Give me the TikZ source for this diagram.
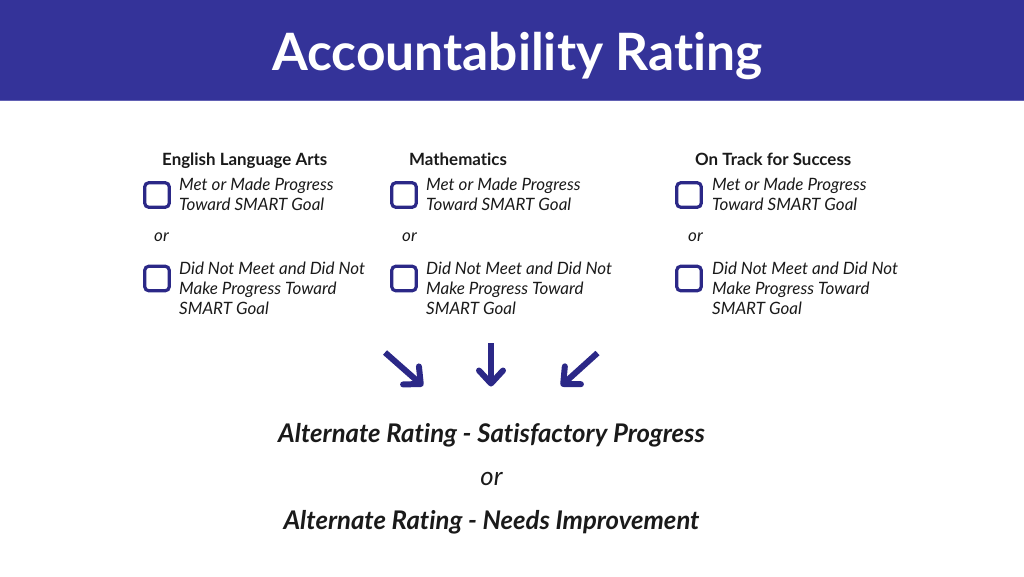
\documentclass[tikz,border=0pt]{standalone}
\usepackage{fontspec}
\setmainfont{Lato}[Ligatures=NoCommon]
\usetikzlibrary{arrows.meta}
\definecolor{bannerblue}{RGB}{52,51,153}
\definecolor{bannerline}{RGB}{98,97,180}
\definecolor{boxblue}{RGB}{43,40,135}
\definecolor{inktext}{RGB}{26,26,26}
\tikzset{
	heading/.style = {
		anchor=base west,
		inner sep=0pt,
		text=inktext,
		font=\bfseries\fontsize{16.9}{20}\selectfont
	},
	choice/.style = {
		anchor=base west,
		align=left,
		inner sep=0pt,
		text=inktext,
		font=\itshape\fontsize{17}{20}\selectfont
	},
	tickbox/.style = {
		draw=boxblue,
		line width=3.2pt,
		rounded corners=4pt,
		minimum size=24.5pt,
		inner sep=0pt
	},
	outcome/.style = {
		anchor=base,
		inner sep=0pt,
		text=inktext,
		font=\bfseries\itshape\fontsize{25.7}{30}\selectfont
	},
	pointer/.style = {
		draw=boxblue,
		line width=6pt,
		-{Straight Barb[round,length=13pt,width=24pt]}
	}
}

\begin{document}
\begin{tikzpicture}[x=1pt,y=-1pt]
	\useasboundingbox (0,0) rectangle (1024,576);
	% banner
	\fill[bannerblue] (0,0) rectangle (1024,101);
	\draw[bannerline, line width=1pt] (0,100.5) -- (1024,100.5);
	\node[anchor=base, inner sep=0pt, text=white, font=\bfseries\fontsize{51.5}{60}\selectfont] (title) at (517.5,70) {Accountability Rating};

	% the three subjects
	\foreach \name/\bx/\tx/\hx/\ox/\head in {
		ela/157/179/162/154/English Language Arts,
		math/404/426/409/402/Mathematics,
		track/689/712/695/688/On Track for Success}
	{
		\node[heading] (\name-head) at (\hx,165.5) {\head};
		\node[tickbox] (\name-box1) at (\bx,195) {};
		\node[choice] (\name-met) at (\tx,210.5) {Met or Made Progress\\Toward SMART Goal};
		\node[choice] (\name-or) at (\ox,241.5) {or};
		\node[tickbox] (\name-box2) at (\bx,278.5) {};
		\node[choice] (\name-not) at (\tx,314) {Did Not Meet and Did Not\\Make Progress Toward\\SMART Goal};
	}

	% arrows
	\coordinate (l-from) at (385,352.5);
	\coordinate (l-to) at (423,386);
	\coordinate (m-from) at (491,343);
	\coordinate (m-to) at (491,386.5);
	\coordinate (r-from) at (597.5,353);
	\coordinate (r-to) at (561,386);
	\draw[pointer] (l-from) -- (l-to);
	\draw[pointer] (m-from) -- (m-to);
	\draw[pointer] (r-from) -- (r-to);

	% result
	\node[outcome] (satisfactory) at (491.5,442) {Alternate Rating - Satisfactory Progress};
	\node[outcome, font=\itshape\fontsize{25.7}{30}\selectfont] (result-or) at (491.5,485) {or};
	\node[outcome] (improvement) at (491.5,529) {Alternate Rating - Needs Improvement};
\end{tikzpicture}
\end{document}
